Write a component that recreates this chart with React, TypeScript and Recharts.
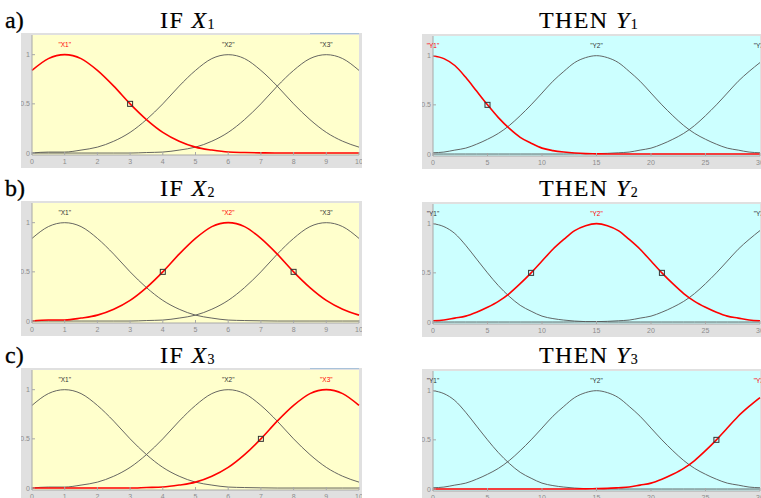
import React from "react";
import { ComposedChart, Line, Scatter, XAxis, YAxis } from "recharts";

// membership curves
const xGrid = [0, 0.5, 1, 1.5, 2, 2.5, 3, 3.5, 4, 4.5, 5, 5.5, 6, 6.5, 7, 7.5, 8, 8.5, 9, 9.5, 10];
const x1Mf = [0.84, 0.96, 1, 0.96, 0.84, 0.68, 0.5, 0.34, 0.21, 0.12, 0.06, 0.03, 0.01, 0.005, 0.002, 0, 0, 0, 0, 0, 0];
const x2Mf = [0, 0.01, 0.01, 0.03, 0.06, 0.12, 0.21, 0.34, 0.5, 0.68, 0.84, 0.96, 1, 0.96, 0.84, 0.68, 0.5, 0.34, 0.21, 0.12, 0.06];
const x3Mf = [0, 0, 0, 0, 0, 0, 0, 0.005, 0.01, 0.03, 0.06, 0.12, 0.21, 0.34, 0.5, 0.68, 0.84, 0.96, 1, 0.96, 0.84];

const yGrid = [0, 1, 2, 3, 4, 5, 6, 7, 8, 9, 10, 11, 12, 13, 14, 15, 16, 17, 18, 19, 20, 21, 22, 23, 24, 25, 26, 27, 28, 29, 30];
const y1Mf = [1, 0.97, 0.9, 0.78, 0.64, 0.5, 0.37, 0.26, 0.17, 0.11, 0.06, 0.035, 0.02, 0.01, 0.004, 0.002, 0, 0, 0, 0, 0, 0, 0, 0, 0, 0, 0, 0, 0, 0, 0];
const y2Mf = [0.013, 0.02, 0.04, 0.06, 0.1, 0.15, 0.21, 0.29, 0.39, 0.5, 0.62, 0.74, 0.84, 0.93, 0.98, 1, 0.98, 0.93, 0.84, 0.74, 0.62, 0.5, 0.39, 0.29, 0.21, 0.15, 0.1, 0.06, 0.04, 0.02, 0.013];
const y3Mf = [0, 0, 0, 0, 0, 0, 0, 0, 0, 0, 0, 0, 0, 0.001, 0.002, 0.004, 0.007, 0.013, 0.02, 0.04, 0.06, 0.1, 0.15, 0.21, 0.29, 0.39, 0.5, 0.62, 0.74, 0.84, 0.93];

const xNames = ['"X1"', '"X2"', '"X3"'];
const xNamePos = [1, 6, 9];
const yNames = ['"Y1"', '"Y2"', '"Y3"'];
const yNamePos = [0, 15, 30];

const xTicks = [0, 1, 2, 3, 4, 5, 6, 7, 8, 9, 10];
const yTicksRight = [0, 5, 10, 15, 20, 25, 30];
const muTicks = [0, 0.5, 1];

// 0.5-crossings marked with a small square, per row
const xMarks = [[3], [4, 8], [7]];
const yMarks = [[5], [9, 21], [26]];

const rowLetters = ["a)", "b)", "c)"];
const rowTop = [33, 201, 368];

const W = 341;
const H = 135;
const GRAY = "#e0e0e0";
const TICK = { fontSize: 7, fill: "#8c8c8c", fontFamily: "Liberation Sans, Arial, sans-serif" };

const noTick = () => <g />;

function Square(props: any) {
  const { cx, cy } = props;
  if (cx == null || cy == null) return <g />;
  return <rect x={cx - 2.5} y={cy - 2.5} width={5} height={5} fill="none" stroke="#333" strokeWidth={1} />;
}

function NameTag(props: any) {
  const { cx, cy, payload } = props;
  if (cx == null || cy == null) return <g />;
  return (
    <text
      x={cx}
      y={cy}
      textAnchor="middle"
      dominantBaseline="middle"
      fontSize={6.5}
      fontFamily="Liberation Sans, Arial, sans-serif"
      fill={payload.hot ? "#ff0000" : "#333"}
    >
      {payload.name}
    </text>
  );
}

function MfPanel({
  left,
  top,
  grid,
  curves,
  hot,
  names,
  namePos,
  marks,
  ticks,
  xMax,
  bg,
}: {
  left: number;
  top: number;
  grid: number[];
  curves: number[][];
  hot: number;
  names: string[];
  namePos: number[];
  marks: number[];
  ticks: number[];
  xMax: number;
  bg: string;
}) {
  const rows = grid.map((x, i) => {
    const r: Record<string, number> = { x };
    curves.forEach((c, k) => (r["s" + k] = c[i]));
    return r;
  });
  const markRows = marks.map((x) => ({ x, m: 0.5 }));
  const tagRows = names.map((name, i) => ({ x: namePos[i], t: 1.1, name, hot: i === hot }));
  const order = curves.map((_, k) => k).filter((k) => k !== hot).concat(hot);

  return (
    <div style={{ position: "absolute", left, top, width: W, height: H, background: GRAY }}>
      <div style={{ position: "absolute", left: 11, top: 2, width: 327, height: 120, background: bg }} />
      <div style={{ position: "absolute", left: 0, top: 0 }}>
        <ComposedChart width={W} height={H} data={rows} margin={{ top: 2, right: 3, bottom: 0, left: 0 }}>
          <XAxis
            dataKey="x"
            type="number"
            domain={[0, xMax]}
            ticks={ticks}
            height={13}
            tick={TICK}
            tickSize={-3}
            tickMargin={7}
            stroke="#a8a8a8"
            interval={0}
          />
          <XAxis
            xAxisId="top"
            dataKey="x"
            type="number"
            orientation="top"
            domain={[0, xMax]}
            ticks={ticks}
            height={0}
            tick={noTick}
            tickSize={-3}
            stroke="#a8a8a8"
          />
          <YAxis
            type="number"
            domain={[-0.02, 1.2]}
            allowDataOverflow
            ticks={muTicks}
            width={11}
            tick={TICK}
            tickSize={-3}
            tickMargin={5}
            stroke="#a8a8a8"
          />
          <YAxis
            yAxisId="r"
            orientation="right"
            type="number"
            domain={[-0.02, 1.2]}
            allowDataOverflow
            ticks={muTicks}
            width={0}
            tick={noTick}
            tickSize={-3}
            stroke="#a8a8a8"
          />
          {order.map((k) => (
            <Line
              key={k}
              dataKey={"s" + k}
              type="monotone"
              dot={false}
              stroke={k === hot ? "#ff0000" : "#555"}
              strokeWidth={k === hot ? 1.6 : 0.9}
              isAnimationActive={false}
            />
          ))}
          <Scatter data={markRows} dataKey="m" shape={<Square />} isAnimationActive={false} />
          <Scatter data={tagRows} dataKey="t" shape={<NameTag />} isAnimationActive={false} />
        </ComposedChart>
      </div>
    </div>
  );
}

const serif = "'Liberation Serif', 'Times New Roman', serif";

function Title({ center, top, word, sym, sub }: { center: number; top: number; word: string; sym: string; sub: string }) {
  return (
    <div
      style={{
        position: "absolute",
        left: center - 100,
        top,
        width: 200,
        textAlign: "center",
        fontFamily: serif,
        fontSize: 24,
        lineHeight: "24px",
        letterSpacing: 1.4,
        color: "#000",
        whiteSpace: "nowrap",
        WebkitTextStroke: "0.15px #000",
      }}
    >
      {word} <i>{sym}</i>
      <span style={{ fontSize: 14, position: "relative", top: 1 }}>{sub}</span>
    </div>
  );
}

export default function App() {
  const xCurves = [x1Mf, x2Mf, x3Mf];
  const yCurves = [y1Mf, y2Mf, y3Mf];
  return (
    <div style={{ position: "absolute", left: 0, top: 0, width: 761, height: 498, overflow: "hidden", background: "#fff" }}>
      {rowTop.map((t, r) => (
        <React.Fragment key={r}>
          <div
            style={{
              position: "absolute",
              left: 5,
              top: t - 25,
              fontFamily: serif,
              fontSize: 24,
              lineHeight: "24px",
              WebkitTextStroke: "0.3px #000",
            }}
          >
            {rowLetters[r]}
          </div>
          <Title center={188} top={t - 25} word="IF" sym="X" sub={String(r + 1)} />
          <Title center={589} top={t - 25} word="THEN" sym="Y" sub={String(r + 1)} />
          <MfPanel
            left={21}
            top={t}
            grid={xGrid}
            curves={xCurves}
            hot={r}
            names={xNames}
            namePos={xNamePos}
            marks={xMarks[r]}
            ticks={xTicks}
            xMax={10}
            bg="#ffffcc"
          />
          <MfPanel
            left={422}
            top={t + 1}
            grid={yGrid}
            curves={yCurves}
            hot={r}
            names={yNames}
            namePos={yNamePos}
            marks={yMarks[r]}
            ticks={yTicksRight}
            xMax={30}
            bg="#ccffff"
          />
          {r !== 1 && (
            <div style={{ position: "absolute", left: 310, top: t, width: 49, height: 1, background: "#a9c2da" }} />
          )}
        </React.Fragment>
      ))}
    </div>
  );
}
